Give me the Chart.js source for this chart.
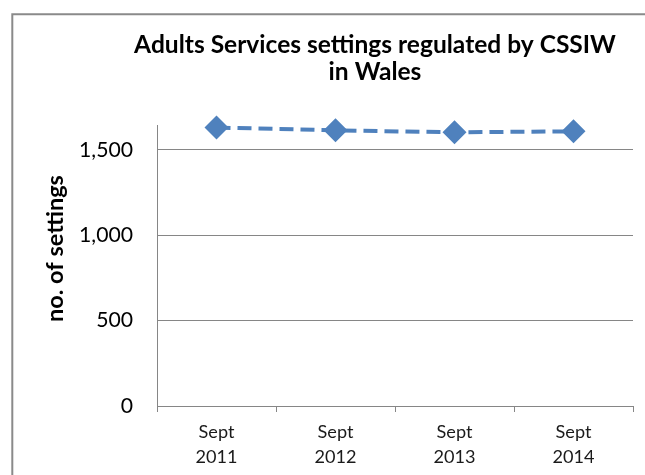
<!DOCTYPE html>
<html>
<head>
<meta charset="utf-8">
<script src="https://cdn.jsdelivr.net/npm/chart.js@4.4.0/dist/chart.umd.min.js"></script>
<style>
  html, body { margin: 0; padding: 0; background: #ffffff; overflow: hidden; }
  #wrap { position: relative; width: 645px; height: 475px; }
  canvas { display: block; }
</style>
</head>
<body>
<div id="wrap"><canvas id="c" width="645" height="475"></canvas></div>
<script>
// ---- data ----
const titleLines = ["Adults Services settings regulated by CSSIW", "in Wales"];
const yAxisTitle = "no. of settings";
const categories = [["Sept", "2011"], ["Sept", "2012"], ["Sept", "2013"], ["Sept", "2014"]];
const settings = [1630, 1614, 1602, 1608];
const yTicks = [0, 500, 1000, 1500];
const yMax = 1645;

// ---- font fitting (style only) ----
const FAMILY = "Lato, 'Open Sans', 'DejaVu Sans', sans-serif";
const mctx = document.createElement('canvas').getContext('2d');
function fitSize(text, weight, target) {
  mctx.font = weight + " 100px " + FAMILY;
  return 100 * target / mctx.measureText(text).width;
}
const titleSize = fitSize(titleLines[0], "bold", 482);
const yTitleSize = fitSize(yAxisTitle, "bold", 147);
const yTickSize = fitSize("1,500", "normal", 54);
const xTickSize = fitSize("2011", "normal", 42);

const GRID = '#868686';
const BLUE = '#4F81BD';

const decor = {
  id: 'decor',
  beforeDraw(chart) {
    const c = chart.ctx;
    c.save();
    c.strokeStyle = '#8a8a8a';
    c.lineWidth = 2;
    c.beginPath();
    c.moveTo(12.3, 520);
    c.lineTo(12.3, 14.3);
    c.lineTo(700, 14.3);
    c.stroke();
    c.restore();
  },
  afterDraw(chart) {
    const c = chart.ctx;
    c.save();
    c.fillStyle = '#000000';
    c.textAlign = 'center';
    c.textBaseline = 'alphabetic';
    c.font = "bold " + titleSize + "px " + FAMILY;
    c.fillText(titleLines[0], 375, 53);
    c.fillText(titleLines[1], 375, 80);
    c.translate(63, 248.5);
    c.rotate(-Math.PI / 2);
    c.font = "bold " + yTitleSize + "px " + FAMILY;
    c.fillText(yAxisTitle, 0, 0);
    c.restore();
  }
};

new Chart(document.getElementById('c'), {
  type: 'line',
  data: {
    labels: categories,
    datasets: [{
      data: settings,
      borderColor: BLUE,
      backgroundColor: BLUE,
      borderWidth: 4,
      borderDash: [14, 7],
      pointStyle: 'rectRot',
      pointRadius: 12,
      pointHoverRadius: 12,
      pointBorderWidth: 0,
      pointBackgroundColor: BLUE,
      tension: 0,
      fill: false,
      clip: false
    }]
  },
  options: {
    responsive: false,
    animation: false,
    devicePixelRatio: 1,
    layout: { padding: { left: 0, top: 125, right: 9, bottom: 0 } },
    plugins: {
      legend: { display: false },
      title: { display: false },
      tooltip: { enabled: false }
    },
    scales: {
      x: {
        type: 'category',
        offset: true,
        grid: {
          offset: true,
          drawOnChartArea: false,
          drawTicks: true,
          tickLength: 6,
          color: GRID,
          lineWidth: 1
        },
        border: { display: true, color: GRID, width: 1 },
        ticks: {
          color: '#1a1a1a',
          font: { family: FAMILY, size: xTickSize, lineHeight: 25 / xTickSize },
          padding: 8,
          maxRotation: 0,
          autoSkip: false
        },
        afterFit(scale) { scale.height = 69; }
      },
      y: {
        min: 0,
        max: yMax,
        grid: {
          drawTicks: false,
          color: GRID,
          lineWidth: 1
        },
        border: { display: true, color: GRID, width: 1 },
        afterBuildTicks(scale) { scale.ticks = yTicks.map(v => ({ value: v })); },
        ticks: {
          color: '#000000',
          font: { family: FAMILY, size: yTickSize },
          padding: 24,
          callback: (v) => Number(v).toLocaleString('en-US')
        },
        afterFit(scale) { scale.width = 157; }
      }
    }
  },
  plugins: [decor]
});
</script>
</body>
</html>
